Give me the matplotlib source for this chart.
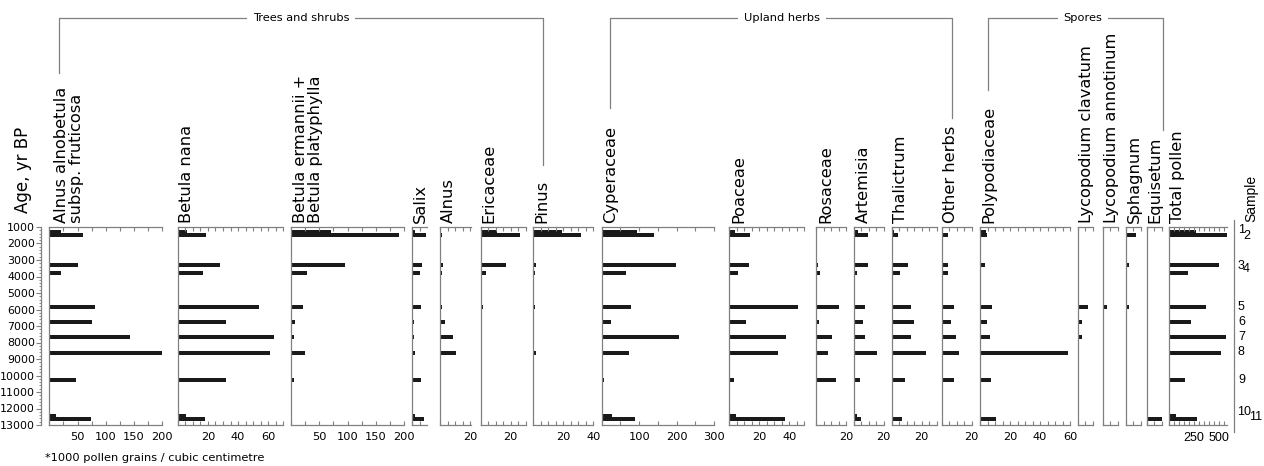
import numpy as np
import matplotlib
matplotlib.use("Agg")
import matplotlib.pyplot as plt
from matplotlib.lines import Line2D
from matplotlib.ticker import MultipleLocator, FixedLocator
import matplotlib.transforms as mtransforms

W, H = 1264, 466
TOP, BOT = 227, 425          # pixel rows of 1000 and 13000 yr BP
GRAY = "#808080"
BAR = "#1a1a1a"

# sample ages (yr BP) and numbers
ages = [1280, 1480, 3275, 3760, 5860, 6730, 7650, 8660, 10270, 12470, 12610]
samples = ["1", "2", "3", "4", "5", "6", "7", "8", "9", "10", "11"]

# concentrations, *1000 grains / cm3
alnus_fruticosa = [21, 60, 50, 20, 80, 75, 143, 200, 48, 11, 73]
betula_nana = [6, 18.5, 28, 17, 54, 32, 64, 61, 32, 5.5, 18]
betula_ermanii = [71, 191, 96, 29, 21, 7, 6, 24, 5, 1.5, 0]
salix = [1.8, 9.3, 6.4, 5.3, 5.6, 1.1, 1.1, 2, 5.6, 1.5, 7.8]
alnus = [0, 1.5, 1.8, 1, 1.1, 3.3, 8.9, 10.7, 0.5, 0, 0]
ericaceae = [10.9, 26.4, 16.9, 3.6, 1.3, 0.7, 0, 0, 0, 0, 0.7]
pinus = [19, 31.6, 1.8, 0.9, 1.1, 0.4, 0, 1.5, 0, 0, 0]
cyperaceae = [95, 140, 197, 65, 78, 24, 205, 72, 7, 27, 89]
poaceae = [3.6, 13.6, 12.9, 5.8, 46, 11.1, 37.6, 32.2, 3.1, 4.2, 37.1]
rosaceae = [0.5, 0.8, 1.1, 2.7, 15.1, 2.2, 10.7, 7.8, 13.6, 0, 0.7]
artemisia = [3.1, 9.8, 9.3, 2.2, 7.3, 6, 7.3, 15.6, 4.2, 2, 4.7]
thalictrum = [1.6, 4.2, 10.9, 5.6, 12.7, 15.1, 12.7, 23.1, 9.1, 0, 6.9]
other_herbs = [1.1, 4, 4, 4, 8.2, 6.4, 9.6, 11.6, 8.2, 1.1, 0]
polypodiaceae = [4, 4.9, 3.3, 0.4, 8, 4.7, 6.9, 58.4, 7.6, 0, 10.4]
lyco_clavatum = [0, 0, 1.1, 0, 6.7, 2.7, 2.7, 0, 0, 0, 0]
lyco_annotinum = [0, 0, 0, 0.4, 2.7, 0, 0, 0, 0, 0, 0.9]
sphagnum = [1.1, 6.9, 2, 0, 2, 0, 0.9, 0, 0.4, 0, 0.7]
equisetum = [0, 0, 0, 0, 0, 0, 0, 0, 0, 0, 11.1]
total_pollen = [267, 574, 494, 190, 371, 214, 571, 518, 157, 67, 274]

taxa = ["Alnus alnobetula\nsubsp. fruticosa", "Betula nana",
        "Betula ermannii +\nBetula platyphylla", "Salix", "Alnus", "Ericaceae",
        "Pinus", "Cyperaceae", "Poaceae", "Rosaceae", "Artemisia", "Thalictrum",
        "Other herbs", "Polypodiaceae", "Lycopodium clavatum",
        "Lycopodium annotinum", "Sphagnum", "Equisetum", "Total pollen"]
series = [alnus_fruticosa, betula_nana, betula_ermanii, salix, alnus, ericaceae,
          pinus, cyperaceae, poaceae, rosaceae, artemisia, thalictrum,
          other_herbs, polypodiaceae, lyco_clavatum, lyco_annotinum, sphagnum,
          equisetum, total_pollen]
xmax = [200, 70, 200, 9.5, 20.7, 30, 40, 300, 50, 20, 20, 30, 20, 60,
        10, 10, 10, 10, 580]
tick_step = [25, 5, 25, 5, 5, 5, 5, 50, 5, 5, 5, 5, 5, 5, 5, 5, 5, 5, 50]
tick_labels = [[50, 100, 150, 200], [20, 40, 60], [50, 100, 150, 200], [], [20],
               [20], [20, 40], [100, 200, 300], [20, 40], [20], [20], [20], [20],
               [20, 40, 60], [], [], [], [], [250, 500]]

# layout (pixels)
panel_left = [49.3, 177.7, 291, 412.3, 440, 480.7, 533.3, 601.7, 729.3, 816,
              853.7, 891.7, 941.7, 980, 1077.7, 1102.7, 1125.7, 1146.7, 1169.3]
px_per_unit = [0.565, 1.51, 0.565, 1.5, 1.5, 1.5, 1.5, 0.375, 1.5, 1.5, 1.5,
               1.5, 1.5, 1.5, 1.5, 1.5, 1.5, 1.5, 0.0998]
label_shift = [5, 1, 2, 1, 1, 1, 1, 1, 2, 2, 2, 1, 1, 1, 1, 1, 1, 1, 1]


def fx(px):
    return px / W


def fy(py):
    return 1 - py / H


fig = plt.figure(figsize=(W / 100, H / 100), dpi=100)

for i, vals in enumerate(series):
    w = xmax[i] * px_per_unit[i]
    ax = fig.add_axes([fx(panel_left[i]), fy(BOT), w / W, (BOT - TOP) / H])
    ax.barh(ages, vals, height=240, color=BAR, linewidth=0)
    ax.set_xlim(0, xmax[i])
    ax.set_ylim(13000, 1000)
    ax.set_yticks([])
    ax.spines["right"].set_visible(False)
    for s in ["left", "top", "bottom"]:
        ax.spines[s].set_color(GRAY)
        ax.spines[s].set_linewidth(0.9)
    ax.xaxis.set_major_locator(FixedLocator(tick_labels[i]))
    ax.xaxis.set_minor_locator(MultipleLocator(tick_step[i]))
    last = i == len(series) - 1
    ax.tick_params(axis="x", which="both", direction="in", top=True, bottom=True,
                   length=3, width=0.8, color=GRAY,
                   labelsize=9 if last else 8.2, pad=5,
                   labelfontfamily="Liberation Sans" if last else "DejaVu Sans")
    fig.text(fx(panel_left[i] + label_shift[i]), fy(223), taxa[i], rotation=90,
             ha="left", va="bottom", fontsize=11.7, linespacing=1.0)

# age axis
ax_age = fig.add_axes([fx(41), fy(BOT), 1 / W, (BOT - TOP) / H])
ax_age.set_ylim(13000, 1000)
ax_age.set_xticks([])
for s in ["right", "top", "bottom"]:
    ax_age.spines[s].set_visible(False)
ax_age.spines["left"].set_color(GRAY)
ax_age.spines["left"].set_linewidth(0.9)
ax_age.yaxis.set_major_locator(MultipleLocator(1000))
ax_age.yaxis.set_minor_locator(MultipleLocator(200))
ax_age.tick_params(axis="y", which="major", direction="out", length=3.5,
                   width=0.8, color=GRAY, labelsize=7.9, pad=0.8)
ax_age.tick_params(axis="y", which="minor", direction="out", length=1.8,
                   width=0.6, color=GRAY)
fig.text(fx(14), fy(213), "Age, yr BP", rotation=90, ha="left", va="bottom",
         fontsize=12)

# sample axis on the right
fig.add_artist(Line2D([fx(1234), fx(1234)], [fy(220), fy(432)], color=GRAY,
                      lw=0.9))
fig.text(fx(1244), fy(222), "Sample", rotation=90, ha="left", va="bottom",
         fontsize=10, family="Liberation Sans")
ax_s = fig.add_axes([fx(1234), fy(BOT), 40 / W, (BOT - TOP) / H])
ax_s.set_ylim(13000, 1000)
ax_s.set_xlim(0, 1)
ax_s.axis("off")
lab_dx = [4, 9, 4, 9, 4, 4, 4, 4, 4, 3, 15]
lab_dy = [-2, 1, 1, -4, 0, 0, 0, -1, 0, -4, -2]
for k, (a, s) in enumerate(zip(ages, samples)):
    tr = mtransforms.offset_copy(ax_s.transData, fig=fig, x=lab_dx[k] * 0.72,
                                 y=-lab_dy[k] * 0.72, units="points")
    ax_s.text(0, a, s, transform=tr, ha="left", va="center", fontsize=9,
              family="Liberation Sans")

# group brackets
groups = [("Trees and shrubs", 59, 543, 301, 73, 165),
          ("Upland herbs", 610, 952, 782, 108, 118),
          ("Spores", 988, 1163, 1083, 90, 130)]
for name, x0, x1, xc, b0, b1 in groups:
    fig.add_artist(Line2D([fx(x0), fx(x0), fx(x1), fx(x1)],
                          [fy(b0), fy(18), fy(18), fy(b1)], color=GRAY, lw=0.9))
    fig.text(fx(xc), fy(18), name, ha="center", va="center", fontsize=8.2,
             bbox=dict(facecolor="white", edgecolor="none", pad=4))

fig.text(fx(45), fy(458), "*1000 pollen grains / cubic centimetre", ha="left",
         va="center", fontsize=8.2)

fig.savefig("out.png", dpi=100)
